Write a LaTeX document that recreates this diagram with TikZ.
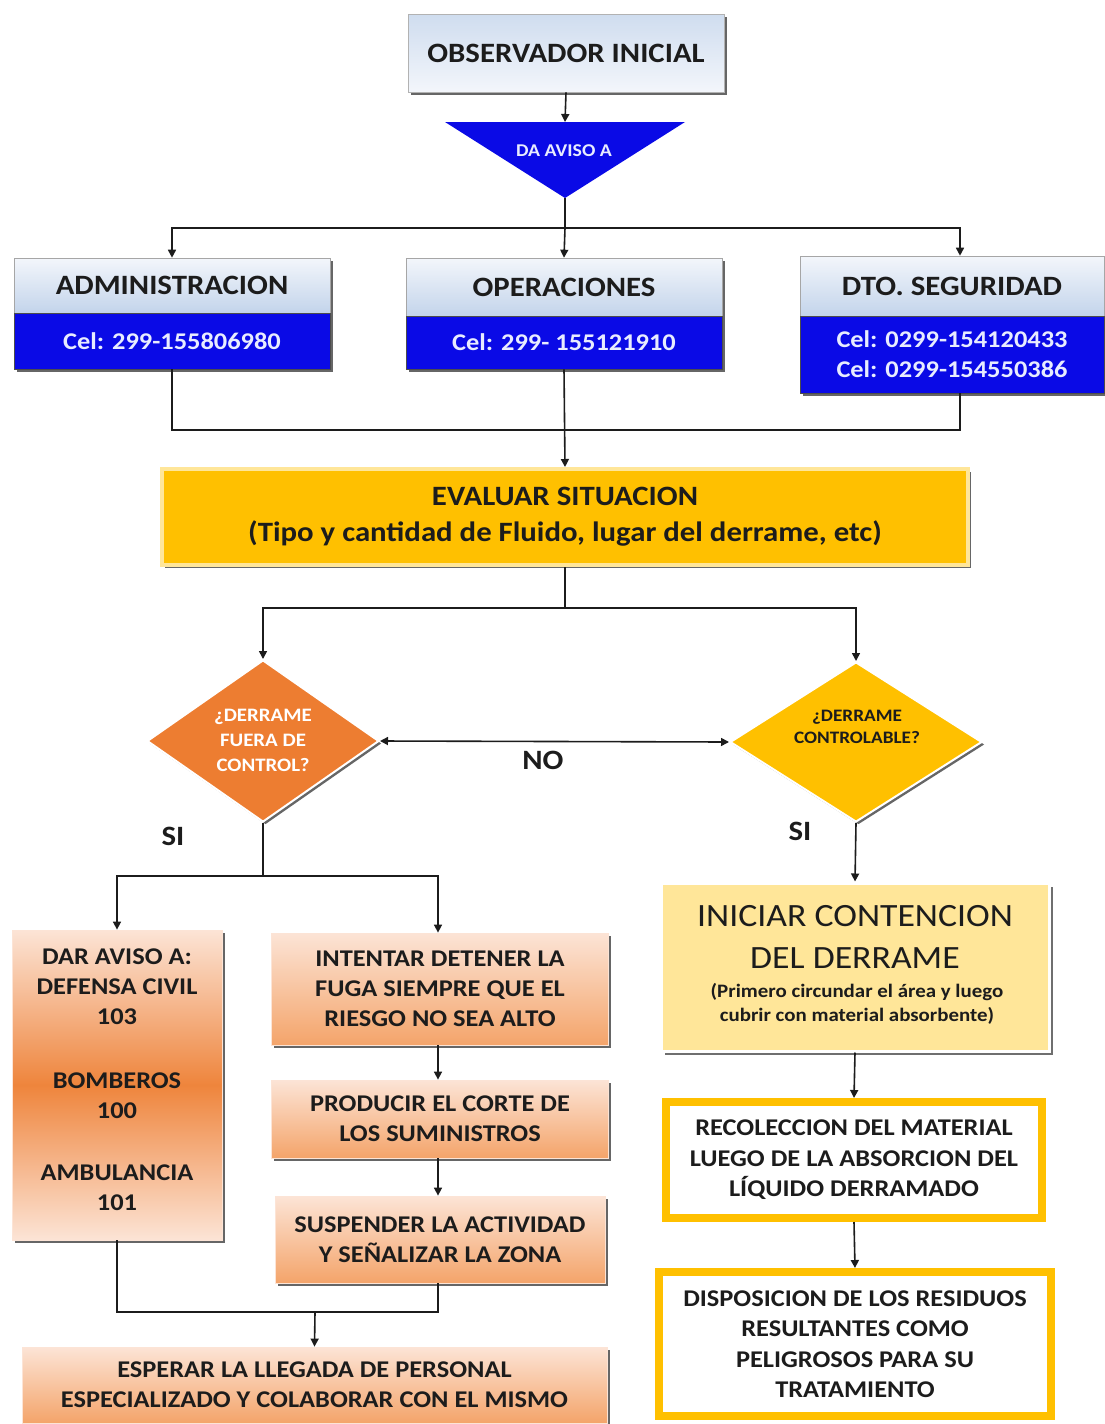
\documentclass[tikz,border=0pt]{standalone}
\usepackage{fontspec}
\setmainfont{Carlito}[FakeStretch=1.1]
\usetikzlibrary{shapes.geometric,arrows.meta,shadows}

\definecolor{ink}{HTML}{1C1C1C}
\definecolor{celblue}{HTML}{0A0AE6}
\definecolor{celtext}{HTML}{E8ECFF}
\definecolor{hdrtop}{HTML}{F3F6FB}
\definecolor{hdrbot}{HTML}{C3D4EB}
\definecolor{gold}{HTML}{FFC000}
\definecolor{goldlight}{HTML}{FFE699}
\definecolor{orangeD}{HTML}{ED7D31}
\definecolor{peach}{HTML}{FCE4D6}
\definecolor{peachdark}{HTML}{F4A46A}

\begin{document}
\begin{tikzpicture}[x=1pt,y=-1pt,
  line/.style={draw=ink, line width=1.6pt},
  arr/.style={line, -{Triangle[length=8pt,width=8pt]}},
  shadowed/.style={drop shadow={shadow xshift=2.5pt,shadow yshift=-2.5pt,fill=black!75,opacity=.8}},
  txt/.style={text=ink, align=center, inner sep=0pt},
  hdr/.style={txt, shadowed, draw=black!35, line width=.6pt, top color=hdrtop, bottom color=hdrbot,
    font=\fontsize{28}{30}\selectfont\bfseries},
  cel/.style={txt, shadowed, fill=celblue, draw=black!70, line width=.6pt, text=celtext,
    font=\fontsize{24}{30}\selectfont\bfseries},
  orangebox/.style={txt, shadowed, draw=peach, line width=.8pt, top color=peach, bottom color=peachdark,
    font=\fontsize{24}{30}\selectfont\bfseries},
  goldframe/.style={txt, fill=white, draw=gold, line width=8pt,
    font=\fontsize{24}{30.5}\selectfont\bfseries},
  decision/.style={diamond, inner sep=0pt, shadowed, draw=white, line width=2pt},
  lbl/.style={txt, font=\fontsize{28}{30}\selectfont\bfseries}
]
\useasboundingbox (0,0) rectangle (1104,1424);
\fill[white] (0,0) rectangle (1104,1424);

% ---------- top: observer and notice ----------
\node[txt, shadowed, draw=black!30, line width=.6pt, top color=hdrbot!80, bottom color=hdrtop,
  minimum width=316pt, minimum height=78pt, font=\fontsize{28}{30}\selectfont\bfseries]
  (obs) at (566,53) {OBSERVADOR INICIAL};

\fill[celblue] (445,122) -- (685,122) -- (565,198) -- cycle;
\coordinate (avisotop) at (565,122);
\coordinate (avisotip) at (565,198);
\node[txt, text=celtext, font=\fontsize{18}{20}\selectfont\bfseries] (aviso) at (564,151) {DA AVISO A};

\draw[arr] (obs.south) -- (avisotop);

% ---------- contact boxes ----------
\node[hdr, minimum width=316pt, minimum height=55pt] (adm) at (172,285.5) {ADMINISTRACION};
\node[cel, minimum width=316pt, minimum height=56pt] (admcel) at (172,341) {Cel: 299-155806980};

\node[hdr, minimum width=316pt, minimum height=58pt] (ope) at (564,287) {OPERACIONES};
\node[cel, minimum width=316pt, minimum height=53pt] (opecel) at (564,342.5) {Cel: 299- 155121910};

\node[hdr, minimum width=304pt, minimum height=60pt] (seg) at (952,286) {DTO. SEGURIDAD};
\node[cel, minimum width=304pt, minimum height=77pt] (segcel) at (952,354.5)
  {Cel: 0299-154120433\\Cel: 0299-154550386};

\coordinate (split1) at (565,228);
\draw[line] (avisotip) -- (split1);
\draw[arr] (split1) -| (adm.north);
\draw[arr] (split1) -- (ope.north);
\draw[arr] (split1) -| ([xshift=8pt]seg.north);

% ---------- evaluation ----------
\node[txt, shadowed, fill=gold, draw=goldlight, line width=4pt, minimum width=806pt, minimum height=96pt,
  font=\fontsize{28}{36}\selectfont\bfseries] (eval) at (565,517)
  {EVALUAR SITUACION\\(Tipo y cantidad de Fluido, lugar del derrame, etc)};

\coordinate (join1) at (565,430);
\draw[line] (admcel.south) |- (join1) -| ([xshift=8pt]segcel.south);
\draw[arr] (opecel.south) -- (eval.north);

% ---------- decisions ----------
\node[decision, fill=orangeD, minimum width=232pt, minimum height=162pt] (dout) at (263,741) {};
\node[txt, text=white, font=\fontsize{19}{25}\selectfont\bfseries] (douttext) at (263,740)
  {¿DERRAME\\FUERA DE\\CONTROL?};
\node[decision, fill=gold, minimum width=252pt, minimum height=160pt] (dctl) at (856,742) {};
\node[txt, font=\fontsize{17.5}{22}\selectfont\bfseries] (dctltext) at (857,727)
  {¿DERRAME\\CONTROLABLE?};

\coordinate (split2) at (565,608);
\draw[line] (eval.south) -- (split2);
\draw[arr] (split2) -| (dout.north);
\draw[arr] (split2) -| (dctl.north);

\draw[line, {Triangle[length=8pt,width=8pt]}-{Triangle[length=8pt,width=8pt]}] (dout.east) -- (dctl.west);
\node[lbl] (no) at (543,760) {NO};
\node[lbl] (si1) at (173,836) {SI};
\node[lbl] (si2) at (800,831) {SI};

% ---------- out of control branch ----------
\node[orangebox, top color=peach, bottom color=peach, middle color=orangeD!80!peachdark,
  minimum width=210pt, minimum height=310pt] (dar) at (117,1085)
  {DAR AVISO A:\\DEFENSA CIVIL\\103\\[34pt]BOMBEROS\\100\\[32pt]AMBULANCIA\\101\\[-20pt]};
\node[orangebox, minimum width=337pt, minimum height=112pt] (intentar) at (440,989)
  {INTENTAR DETENER LA\\FUGA SIEMPRE QUE EL\\RIESGO NO SEA ALTO};
\node[orangebox, minimum width=337pt, minimum height=78pt] (corte) at (440,1119)
  {PRODUCIR EL CORTE DE\\LOS SUMINISTROS};
\node[orangebox, minimum width=330pt, minimum height=87pt] (susp) at (440,1239.5)
  {SUSPENDER LA ACTIVIDAD\\Y SEÑALIZAR LA ZONA};
\node[orangebox, minimum width=585pt, minimum height=76pt] (esperar) at (314.5,1385)
  {ESPERAR LA LLEGADA DE PERSONAL\\ESPECIALIZADO Y COLABORAR CON EL MISMO};

\coordinate (split3) at (263,876);
\draw[line] (dout.south) -- (split3);
\draw[arr] (split3) -| (dar.north);
\draw[arr] (split3) -| ([xshift=-2pt]intentar.north);
\draw[arr] ([xshift=-2pt]intentar.south) -- ([xshift=-2pt]corte.north);
\draw[arr] ([xshift=-2pt]corte.south) -- ([xshift=-2pt]susp.north);

\coordinate (join2) at (315,1312);
\draw[line] (dar.south) |- (join2) -| ([xshift=-2pt]susp.south);
\draw[arr] (join2) -- (esperar.north);

% ---------- controllable branch ----------
\node[txt, drop shadow={shadow xshift=3.5pt,shadow yshift=-3.5pt,fill=black!70,opacity=.8},
  fill=goldlight, draw=white, line width=3pt, minimum width=388pt, minimum height=168pt]
  (iniciar) at (855,967) {};
\node[txt, font=\fontsize{32.5}{42}\selectfont] (initit) at (855,937)
  {INICIAR CONTENCION\\DEL DERRAME};
\node[txt, font=\fontsize{19}{24}\selectfont\bfseries] (inisub) at (857,1004)
  {(Primero circundar el área y luego\\cubrir con material absorbente)};

\node[goldframe, minimum width=376pt, minimum height=116pt] (recol) at (854,1160)
  {RECOLECCION DEL MATERIAL\\LUEGO DE LA ABSORCION DEL\\LÍQUIDO DERRAMADO};
\node[goldframe, minimum width=392pt, minimum height=144pt] (dispo) at (855,1344)
  {DISPOSICION DE LOS RESIDUOS\\RESULTANTES COMO\\PELIGROSOS PARA SU\\TRATAMIENTO};

\draw[arr] (dctl.south) -- (iniciar.north);
\draw[arr] (iniciar.south) -- (recol.north);
\draw[arr] (recol.south) -- (dispo.north);
\end{tikzpicture}
\end{document}
